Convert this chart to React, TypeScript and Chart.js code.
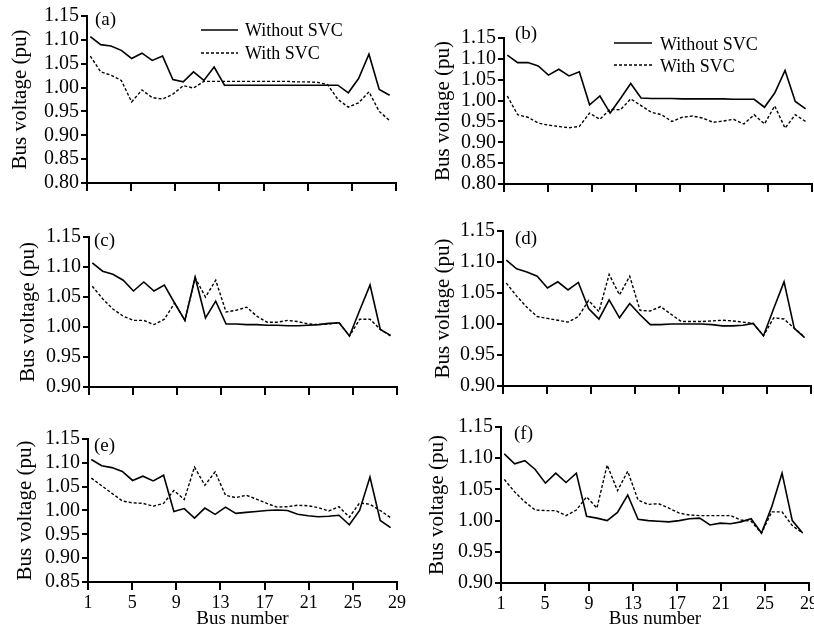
import React, { useEffect, useRef } from "react";
import { Chart, registerables } from "chart.js";

Chart.register(...registerables);

// Bus positions along the axis (30 buses, plotted over the 1..29 axis)
const busX = [1.3, 2.24, 3.17, 4.11, 5.04, 5.98, 6.91, 7.85, 8.78, 9.72, 10.65, 11.59, 12.52, 13.46, 14.39, 15.33, 16.26, 17.2, 18.13, 19.07, 20.0, 20.94, 21.87, 22.81, 23.74, 24.68, 25.61, 26.55, 27.48, 28.42];

const xTicks = [1, 5, 9, 13, 17, 21, 25, 29];
const yTicks080 = [0.8, 0.85, 0.9, 0.95, 1.0, 1.05, 1.1, 1.15];
const yTicks085 = [0.85, 0.9, 0.95, 1.0, 1.05, 1.1, 1.15];
const yTicks090 = [0.9, 0.95, 1.0, 1.05, 1.1, 1.15];

const seriesNames = ["Without SVC", "With SVC"];
const xTitle = "Bus number";
const yTitle = "Bus voltage (pu)";

const aWithout = [1.107, 1.09, 1.087, 1.078, 1.061, 1.072, 1.057, 1.066, 1.017, 1.012, 1.033, 1.015, 1.043, 1.005, 1.005, 1.005, 1.005, 1.005, 1.005, 1.005, 1.005, 1.005, 1.005, 1.005, 1.005, 0.989, 1.019, 1.07, 0.996, 0.984];
const aWith = [1.066, 1.033, 1.026, 1.015, 0.97, 0.995, 0.979, 0.976, 0.986, 1.004, 0.999, 1.013, 1.013, 1.013, 1.013, 1.013, 1.013, 1.013, 1.013, 1.013, 1.012, 1.012, 1.011, 1.006, 0.975, 0.959, 0.968, 0.991, 0.95, 0.931];

const bWithout = [1.109, 1.091, 1.091, 1.083, 1.061, 1.075, 1.059, 1.069, 0.99, 1.011, 0.97, 1.005, 1.041, 1.006, 1.005, 1.005, 1.005, 1.004, 1.004, 1.004, 1.004, 1.004, 1.003, 1.003, 1.003, 0.984, 1.018, 1.072, 0.998, 0.98];
const bWith = [1.011, 0.966, 0.96, 0.946, 0.941, 0.938, 0.935, 0.938, 0.97, 0.955, 0.979, 0.978, 1.004, 0.988, 0.972, 0.966, 0.95, 0.96, 0.963, 0.958, 0.948, 0.951, 0.955, 0.944, 0.966, 0.944, 0.987, 0.934, 0.966, 0.95];

const cWithout = [1.107, 1.093, 1.088, 1.078, 1.06, 1.075, 1.06, 1.07, 1.04, 1.011, 1.083, 1.015, 1.043, 1.005, 1.005, 1.004, 1.004, 1.003, 1.003, 1.002, 1.002, 1.003, 1.004, 1.006, 1.007, 0.985, 1.028, 1.07, 0.996, 0.986];
const cWith = [1.068, 1.047, 1.03, 1.018, 1.011, 1.011, 1.004, 1.013, 1.04, 1.011, 1.082, 1.05, 1.078, 1.025, 1.028, 1.033, 1.018, 1.008, 1.008, 1.011, 1.009, 1.005, 1.004, 1.005, 1.007, 0.985, 1.013, 1.013, 0.996, 0.985];

const dWithout = [1.103, 1.089, 1.084, 1.077, 1.058, 1.068, 1.055, 1.067, 1.025, 1.008, 1.039, 1.01, 1.033, 1.015, 0.999, 0.999, 1.0, 1.0, 1.0, 1.0, 0.999, 0.997, 0.997, 0.998, 1.001, 0.981, 1.025, 1.068, 0.993, 0.978];
const dWith = [1.066, 1.045, 1.027, 1.012, 1.009, 1.006, 1.003, 1.012, 1.038, 1.02, 1.08, 1.047, 1.077, 1.022, 1.021, 1.028, 1.016, 1.004, 1.004, 1.004, 1.005, 1.006, 1.005, 1.003, 1.001, 0.981, 1.01, 1.008, 0.993, 0.979];

const eWithout = [1.107, 1.094, 1.09, 1.082, 1.063, 1.072, 1.062, 1.074, 0.998, 1.004, 0.984, 1.005, 0.992, 1.007, 0.994, 0.996, 0.998, 1.0, 1.001, 1.0, 0.992, 0.989, 0.987, 0.988, 0.99, 0.97, 1.0, 1.07, 0.979, 0.964];
const eWith = [1.068, 1.052, 1.036, 1.02, 1.016, 1.015, 1.009, 1.015, 1.042, 1.023, 1.091, 1.053, 1.081, 1.032, 1.027, 1.032, 1.024, 1.015, 1.007, 1.008, 1.011, 1.01, 1.006, 0.999, 1.008, 0.986, 1.016, 1.013, 1.0, 0.985];

const fWithout = [1.107, 1.091, 1.096, 1.082, 1.06, 1.076, 1.061, 1.076, 1.007, 1.004, 1.0, 1.013, 1.041, 1.002, 1.0, 0.999, 0.998, 1.0, 1.003, 1.004, 0.993, 0.996, 0.995, 0.998, 1.003, 0.98, 1.022, 1.076, 1.0, 0.98];
const fWith = [1.066, 1.046, 1.03, 1.017, 1.016, 1.016, 1.008, 1.017, 1.038, 1.02, 1.089, 1.048, 1.079, 1.033, 1.026, 1.027, 1.02, 1.012, 1.009, 1.008, 1.008, 1.008, 1.008, 1.001, 0.999, 0.98, 1.014, 1.014, 0.992, 0.98];

const FONT = '"Liberation Serif", "Times New Roman", Times, serif';

type LegendSpec = { lx: number; lw: number; tx: number; y1: number; y2: number; ty: number } | null;

type PanelSpec = {
  tag: string;
  without: number[];
  withSvc: number[];
  yTicks: number[];
  left: number;
  top: number;
  w: number;
  h: number;
  area: { l: number; t: number; r: number; b: number };
  padL: number;
  padB: number;
  xLabels: boolean;
  tagOff: [number, number];
  legend: LegendSpec;
};

const panels: PanelSpec[] = [
  { tag: "(a)", without: aWithout, withSvc: aWith, yTicks: yTicks080, left: 0, top: 0, w: 407, h: 200, area: { l: 87, t: 16, r: 396, b: 183 }, padL: 7.4, padB: 0, xLabels: false, tagOff: [8, 4], legend: { lx: 114, lw: 37, tx: 158, y1: 14, y2: 37, ty: 1.5 } },
  { tag: "(b)", without: bWithout, withSvc: bWith, yTicks: yTicks080, left: 407, top: 0, w: 407, h: 200, area: { l: 97, t: 38, r: 405, b: 184 }, padL: 23.4, padB: 0, xLabels: false, tagOff: [11, -3.5], legend: { lx: 110, lw: 38, tx: 156, y1: 5, y2: 27, ty: 2 } },
  { tag: "(c)", without: cWithout, withSvc: cWith, yTicks: yTicks090, left: 0, top: 200, w: 407, h: 205, area: { l: 89, t: 37, r: 397, b: 187 }, padL: 15.4, padB: 0, xLabels: false, tagOff: [5, 4], legend: null },
  { tag: "(d)", without: dWithout, withSvc: dWith, yTicks: yTicks090, left: 407, top: 200, w: 407, h: 205, area: { l: 96, t: 31, r: 404, b: 186 }, padL: 23.4, padB: 0, xLabels: false, tagOff: [12, 8], legend: null },
  { tag: "(e)", without: eWithout, withSvc: eWith, yTicks: yTicks085, left: 0, top: 405, w: 407, h: 228, area: { l: 88, t: 34, r: 397, b: 177 }, padL: 12.4, padB: 3, xLabels: true, tagOff: [6, 7], legend: null },
  { tag: "(f)", without: fWithout, withSvc: fWith, yTicks: yTicks090, left: 407, top: 405, w: 407, h: 228, area: { l: 94, t: 22, r: 402, b: 178 }, padL: 17.9, padB: 3, xLabels: true, tagOff: [13, 7.5], legend: null },
];

const SOLID_W = 1.6;
const DASH_W = 1.4;
const DASH = [3, 2];

function Panel({ spec }: { spec: PanelSpec }) {
  const ref = useRef<HTMLCanvasElement | null>(null);

  useEffect(() => {
    if (!ref.current) return;
    const s = spec;
    const decor = {
      id: "decor" + s.tag,
      afterDraw(chart: any) {
        const ctx = chart.ctx;
        const ca = chart.chartArea;
        ctx.save();
        ctx.fillStyle = "#000";
        ctx.textAlign = "left";
        ctx.textBaseline = "middle";
        ctx.font = `19px ${FONT}`;
        ctx.fillText(s.tag, ca.left + s.tagOff[0], ca.top + s.tagOff[1]);
        if (s.legend) {
          const L = s.legend;
          const rows = [
            { y: L.y1, dash: [] as number[], w: SOLID_W, text: seriesNames[0] },
            { y: L.y2, dash: DASH, w: DASH_W, text: seriesNames[1] },
          ];
          rows.forEach((r) => {
            ctx.beginPath();
            ctx.setLineDash(r.dash);
            ctx.lineWidth = r.w;
            ctx.strokeStyle = "#000";
            ctx.moveTo(ca.left + L.lx, ca.top + r.y);
            ctx.lineTo(ca.left + L.lx + L.lw, ca.top + r.y);
            ctx.stroke();
            ctx.setLineDash([]);
            ctx.font = `18px ${FONT}`;
            ctx.fillText(r.text, ca.left + L.tx, ca.top + r.y + L.ty);
          });
        }
        ctx.restore();
      },
    };

    const chart = new Chart(ref.current, {
      type: "line",
      data: {
        datasets: [
          {
            label: seriesNames[0],
            data: busX.map((x, i) => ({ x, y: s.without[i] })),
            borderColor: "#000",
            borderWidth: SOLID_W,
            pointRadius: 0,
            tension: 0,
            fill: false,
          },
          {
            label: seriesNames[1],
            data: busX.map((x, i) => ({ x, y: s.withSvc[i] })),
            borderColor: "#000",
            borderWidth: DASH_W,
            borderDash: DASH,
            pointRadius: 0,
            tension: 0,
            fill: false,
          },
        ],
      },
      options: {
        responsive: false,
        animation: false,
        devicePixelRatio: 1,
        events: [],
        layout: {
          padding: { left: s.padL, top: s.area.t, right: s.w - s.area.r, bottom: s.padB },
        },
        plugins: { legend: { display: false }, tooltip: { enabled: false }, title: { display: false } },
        scales: {
          x: {
            type: "linear",
            min: 1,
            max: 29,
            afterBuildTicks: (sc: any) => {
              sc.ticks = xTicks.map((v) => ({ value: v }));
            },
            afterFit: (sc: any) => {
              sc.height = s.h - s.padB - s.area.b;
              sc.paddingLeft = 0;
              sc.paddingRight = 0;
            },
            ticks: {
              display: s.xLabels,
              color: "#000",
              font: { family: FONT, size: 18 },
              padding: 2,
              maxRotation: 0,
              autoSkip: false,
              callback: (v: any) => String(v),
            },
            grid: { display: true, drawOnChartArea: false, drawTicks: true, tickLength: 8, color: "#000", lineWidth: 2 },
            border: { display: true, color: "#000", width: 2 },
            title: { display: s.xLabels, text: xTitle, color: "#000", font: { family: FONT, size: 19 }, padding: 0 },
          },
          y: {
            type: "linear",
            min: s.yTicks[0],
            max: s.yTicks[s.yTicks.length - 1],
            afterBuildTicks: (sc: any) => {
              sc.ticks = s.yTicks.map((v) => ({ value: v }));
            },
            afterFit: (sc: any) => {
              sc.width = s.area.l - s.padL;
              sc.paddingTop = 0;
              sc.paddingBottom = 0;
            },
            ticks: {
              color: "#000",
              font: { family: FONT, size: 20 },
              padding: 2,
              autoSkip: false,
              callback: (v: any) => Number(v).toFixed(2),
            },
            grid: { display: true, drawOnChartArea: false, drawTicks: true, tickLength: 6, color: "#000", lineWidth: 2 },
            border: { display: true, color: "#000", width: 2 },
            title: { display: true, text: yTitle, color: "#000", font: { family: FONT, size: 21 }, padding: 0 },
          },
        },
      } as any,
      plugins: [decor],
    });
    return () => chart.destroy();
  }, [spec]);

  return (
    <canvas
      ref={ref}
      width={spec.w}
      height={spec.h}
      style={{ position: "absolute", left: spec.left, top: spec.top, width: spec.w, height: spec.h }}
    />
  );
}

export default function App() {
  return (
    <div style={{ position: "absolute", left: 0, top: 0, width: 814, height: 633, background: "#fff", overflow: "hidden" }}>
      {panels.map((p) => (
        <Panel key={p.tag} spec={p} />
      ))}
    </div>
  );
}
